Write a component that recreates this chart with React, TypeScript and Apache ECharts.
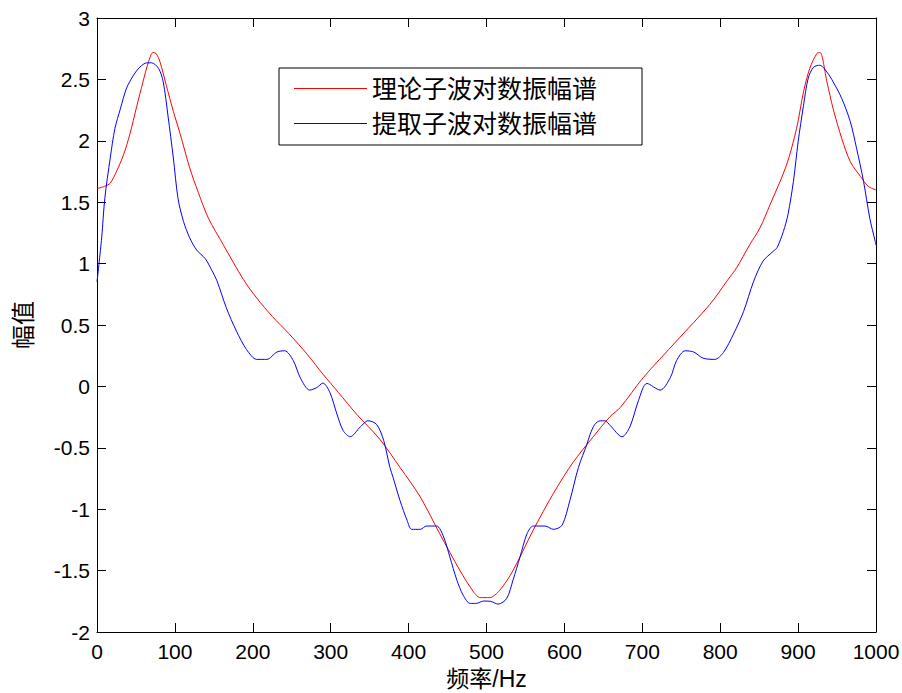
import React, { useEffect, useRef } from "react";
import * as echarts from "echarts";

const xTicks = [0, 100, 200, 300, 400, 500, 600, 700, 800, 900, 1000];
const yTicks = [-2, -1.5, -1, -0.5, 0, 0.5, 1, 1.5, 2, 2.5, 3];
const seriesNames = ["理论子波对数振幅谱", "提取子波对数振幅谱"];
const xAxisName = "频率/Hz";
const yAxisName = "幅值";

const theoryX = [
  0, 10, 17, 25, 34, 42, 51, 59, 66, 72, 76, 81, 89, 98, 107, 119, 130, 143, 162, 188,
  205, 225, 247, 270, 290, 310, 333, 363, 389, 415, 440, 466, 483, 492, 504, 517, 534,
  560, 586, 611, 637, 658, 672, 701, 744, 787, 810, 821, 838, 851, 864, 885, 898, 907,
  915, 924, 928, 937, 945, 956, 967, 980, 990, 1000,
];
const theoryY = [
  1.61, 1.63, 1.655, 1.75, 1.885, 2.05, 2.28, 2.48, 2.64, 2.72, 2.71, 2.64, 2.45, 2.24,
  2.05, 1.78, 1.58, 1.37, 1.155, 0.87, 0.72, 0.57, 0.425, 0.26, 0.1, -0.05, -0.225,
  -0.43, -0.66, -0.9, -1.2, -1.5, -1.67, -1.72, -1.72, -1.66, -1.5, -1.17, -0.87, -0.62,
  -0.41, -0.25, -0.17, 0.07, 0.37, 0.67, 0.87, 0.965, 1.155, 1.29, 1.48, 1.8, 2.1, 2.4,
  2.59, 2.71, 2.72, 2.48, 2.26, 2.02, 1.83, 1.71, 1.63, 1.6,
];

const extractX = [
  0, 6, 10, 17, 23, 30, 38, 47, 55, 64, 70, 79, 85, 91, 98, 104, 111, 119, 128, 139,
  147, 154, 166, 179, 192, 205, 218, 231, 241, 252, 261, 273, 282, 290, 299, 308, 316,
  325, 338, 348, 359, 368, 376, 380, 389, 398, 404, 415, 423, 436, 445, 453, 462, 470,
  479, 487, 496, 505, 515, 526, 534, 543, 552, 560, 575, 586, 597, 607, 618, 629, 633,
  639, 646, 652, 659, 674, 684, 695, 706, 723, 736, 744, 755, 766, 778, 793, 804, 817,
  830, 843, 855, 868, 873, 881, 887, 894, 900, 907, 913, 920, 928, 937, 945, 956, 967,
  975, 984, 992, 999, 1000,
];
const extractY = [
  0.85, 1.21, 1.53, 1.86, 2.1, 2.26, 2.43, 2.535, 2.6, 2.635, 2.635, 2.59, 2.48, 2.21,
  1.86, 1.53, 1.344, 1.21, 1.11, 1.04, 0.95, 0.86, 0.64, 0.45, 0.3, 0.22, 0.22, 0.28,
  0.29, 0.21, 0.07, -0.03, -0.01, 0.027, -0.05, -0.225, -0.36, -0.41, -0.33, -0.28, -0.31,
  -0.44, -0.66, -0.74, -0.93, -1.09, -1.164, -1.164, -1.137, -1.137, -1.226, -1.39,
  -1.578, -1.7, -1.767, -1.767, -1.748, -1.75, -1.773, -1.726, -1.578, -1.39, -1.2,
  -1.137, -1.137, -1.164, -1.13, -0.93, -0.66, -0.47, -0.39, -0.31, -0.28, -0.28, -0.32,
  -0.41, -0.33, -0.117, 0.024, -0.03, 0.072, 0.21, 0.29, 0.28, 0.23, 0.22, 0.275, 0.425,
  0.61, 0.857, 1.02, 1.1, 1.13, 1.26, 1.4, 1.67, 1.99, 2.29, 2.51, 2.6, 2.615, 2.56,
  2.48, 2.345, 2.156, 1.94, 1.67, 1.37, 1.18, 1.15,
];

const LATIN = "'Liberation Sans', Arial, 'Noto Sans CJK SC', sans-serif";
const CJK = "'Liberation Sans', 'Noto Sans CJK SC', sans-serif";

export default function App() {
  const ref = useRef<HTMLDivElement>(null);
  useEffect(() => {
    if (!ref.current) return;
    const chart = echarts.init(ref.current, null, { renderer: "svg" });
    const xMin = xTicks[0];
    const xMax = xTicks[xTicks.length - 1];
    const xInt = xTicks[1] - xTicks[0];
    const yMin = yTicks[0];
    const yMax = yTicks[yTicks.length - 1];
    const yInt = yTicks[1] - yTicks[0];
    const axisCommon = {
      axisLine: { show: true, onZero: false, lineStyle: { color: "#000", width: 1 } },
      axisTick: { show: true, inside: true, length: 9, lineStyle: { color: "#000" } },
      splitLine: { show: false },
    };
    const plain = (v: number) => String(v);
    chart.setOption({
      animation: false,
      backgroundColor: "#fff",
      grid: {
        left: 97,
        top: 18,
        right: 26,
        bottom: 61,
        containLabel: false,
        outerBoundsMode: "none",
      },
      legend: {
        show: true,
        orient: "vertical",
        left: 279,
        top: 68,
        data: seriesNames.map((n) => ({ name: n, icon: "rect" })),
        itemWidth: 73,
        itemHeight: 1,
        itemGap: 10,
        padding: [8, 45, 9, 15],
        borderColor: "#000",
        borderWidth: 1,
        backgroundColor: "#fff",
        textStyle: { fontSize: 25, lineHeight: 24, color: "#000", fontFamily: CJK },
      },
      xAxis: [
        {
          type: "value",
          min: xMin,
          max: xMax,
          interval: xInt,
          name: xAxisName,
          nameLocation: "middle",
          nameGap: 35,
          nameTextStyle: { fontSize: 23, lineHeight: 24, color: "#000", fontFamily: CJK },
          axisLabel: { fontSize: 21, color: "#000", margin: 9, fontFamily: LATIN, formatter: plain },
          ...axisCommon,
        },
        {
          type: "value",
          position: "top",
          min: xMin,
          max: xMax,
          interval: xInt,
          axisLabel: { show: false },
          ...axisCommon,
        },
      ],
      yAxis: [
        {
          type: "value",
          min: yMin,
          max: yMax,
          interval: yInt,
          name: yAxisName,
          nameLocation: "middle",
          nameRotate: 90,
          nameGap: 62,
          nameTextStyle: { fontSize: 24, color: "#000", fontFamily: CJK },
          axisLabel: { fontSize: 21, color: "#000", margin: 7, fontFamily: LATIN, formatter: plain },
          ...axisCommon,
        },
        {
          type: "value",
          position: "right",
          min: yMin,
          max: yMax,
          interval: yInt,
          axisLabel: { show: false },
          ...axisCommon,
        },
      ],
      series: [
        {
          name: seriesNames[0],
          type: "line",
          symbol: "none",
          smooth: 0.3,
          xAxisIndex: 0,
          yAxisIndex: 0,
          lineStyle: { color: "#ff0000", width: 1 },
          itemStyle: { color: "#ff0000" },
          data: theoryX.map((x, i) => [x, theoryY[i]]),
        },
        {
          name: seriesNames[1],
          type: "line",
          symbol: "none",
          smooth: 0.3,
          xAxisIndex: 0,
          yAxisIndex: 0,
          lineStyle: { color: "#0000ff", width: 1 },
          itemStyle: { color: "#0000ff" },
          data: extractX.map((x, i) => [x, extractY[i]]),
        },
      ],
    });
    return () => chart.dispose();
  }, []);
  return (
    <div
      ref={ref}
      style={{ position: "fixed", left: 0, top: 0, width: 902, height: 693, background: "#fff" }}
    />
  );
}
